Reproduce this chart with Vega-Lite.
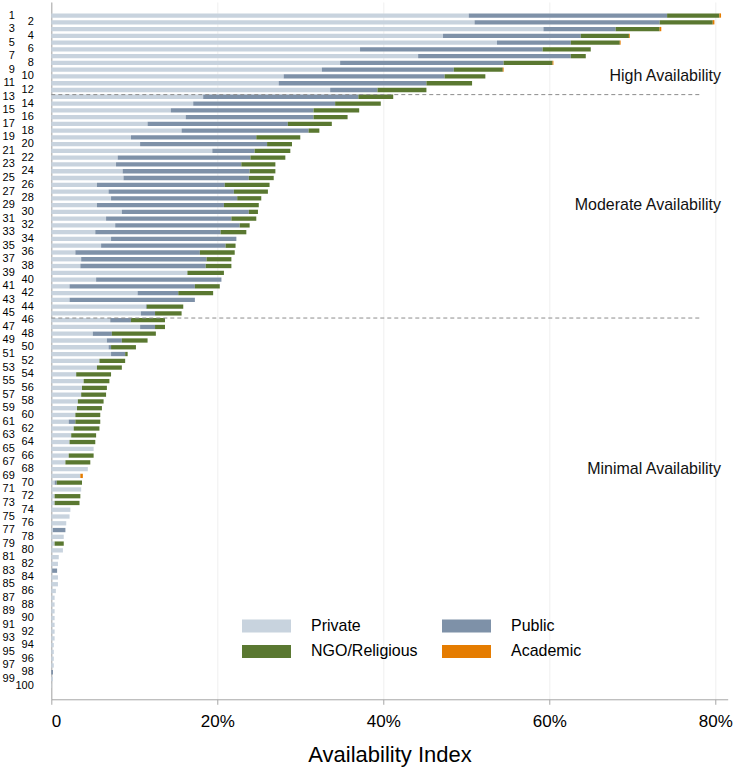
{
  "$schema": "https://vega.github.io/schema/vega-lite/v6.json",
  "autosize": {"type": "none"},
  "width": 676.4,
  "height": 697.3,
  "padding": {"left": 51.3, "top": 2, "right": 15, "bottom": 71},
  "background": "white",
  "config": {"view": {"stroke": null}, "font": "Liberation Sans"},
  "datasets": {
    "bars": [
      {"r": 1, "Private": 50.3, "Public": 23.9, "NGO/Religious": 6.3, "Academic": 0.2},
      {"r": 2, "Private": 51.0, "Public": 22.3, "NGO/Religious": 6.4, "Academic": 0.2},
      {"r": 3, "Private": 59.3, "Public": 8.7, "NGO/Religious": 5.3, "Academic": 0.2},
      {"r": 4, "Private": 47.2, "Public": 16.6, "NGO/Religious": 5.8, "Academic": 0.1},
      {"r": 5, "Private": 53.7, "Public": 8.9, "NGO/Religious": 5.9, "Academic": 0.1},
      {"r": 6, "Private": 37.2, "Public": 22.0, "NGO/Religious": 5.8},
      {"r": 7, "Private": 44.2, "Public": 18.4, "NGO/Religious": 1.8},
      {"r": 8, "Private": 34.8, "Public": 19.7, "NGO/Religious": 5.9, "Academic": 0.1},
      {"r": 9, "Private": 32.6, "Public": 15.9, "NGO/Religious": 5.9, "Academic": 0.1},
      {"r": 10, "Private": 28.0, "Public": 19.4, "NGO/Religious": 4.9},
      {"r": 11, "Private": 27.4, "Public": 17.8, "NGO/Religious": 5.5},
      {"r": 12, "Private": 33.6, "Public": 5.7, "NGO/Religious": 5.9},
      {"r": 13, "Private": 18.3, "Public": 18.7, "NGO/Religious": 4.2},
      {"r": 14, "Private": 17.1, "Public": 17.1, "NGO/Religious": 5.5},
      {"r": 15, "Private": 14.4, "Public": 17.2, "NGO/Religious": 5.5},
      {"r": 16, "Private": 16.2, "Public": 15.4, "NGO/Religious": 4.1},
      {"r": 17, "Private": 11.6, "Public": 16.9, "NGO/Religious": 5.3},
      {"r": 18, "Private": 15.7, "Public": 15.3, "NGO/Religious": 1.3},
      {"r": 19, "Private": 9.6, "Public": 15.1, "NGO/Religious": 5.3},
      {"r": 20, "Private": 10.7, "Public": 15.3, "NGO/Religious": 3.0},
      {"r": 21, "Private": 19.4, "Public": 5.1, "NGO/Religious": 4.3},
      {"r": 22, "Private": 8.0, "Public": 16.0, "NGO/Religious": 4.2},
      {"r": 23, "Private": 7.8, "Public": 15.1, "NGO/Religious": 4.1},
      {"r": 24, "Private": 8.6, "Public": 15.3, "NGO/Religious": 3.1},
      {"r": 25, "Private": 8.7, "Public": 15.1, "NGO/Religious": 3.0},
      {"r": 26, "Private": 5.5, "Public": 15.4, "NGO/Religious": 5.4},
      {"r": 27, "Private": 6.9, "Public": 15.1, "NGO/Religious": 4.1},
      {"r": 28, "Private": 7.2, "Public": 15.2, "NGO/Religious": 2.9},
      {"r": 29, "Private": 5.5, "Public": 15.3, "NGO/Religious": 4.2},
      {"r": 30, "Private": 8.5, "Public": 15.3, "NGO/Religious": 1.1},
      {"r": 31, "Private": 6.6, "Public": 15.1, "NGO/Religious": 3.0},
      {"r": 32, "Private": 7.7, "Public": 15.0, "NGO/Religious": 1.2},
      {"r": 33, "Private": 5.3, "Public": 15.1, "NGO/Religious": 3.1},
      {"r": 34, "Private": 7.2, "Public": 15.1},
      {"r": 35, "Private": 6.0, "Public": 15.0, "NGO/Religious": 1.2},
      {"r": 36, "Private": 2.9, "Public": 15.0, "NGO/Religious": 4.2},
      {"r": 37, "Private": 3.6, "Public": 15.1, "NGO/Religious": 3.0},
      {"r": 38, "Private": 3.5, "Public": 15.1, "NGO/Religious": 3.1},
      {"r": 39, "Private": 16.4, "NGO/Religious": 4.4},
      {"r": 40, "Private": 5.4, "Public": 15.1},
      {"r": 41, "Private": 2.2, "Public": 15.1, "NGO/Religious": 3.0},
      {"r": 42, "Private": 10.4, "Public": 4.9, "NGO/Religious": 4.2},
      {"r": 43, "Private": 2.2, "Public": 15.1},
      {"r": 44, "Private": 11.4, "Public": 0.1, "NGO/Religious": 4.4},
      {"r": 45, "Private": 10.8, "Public": 1.7, "NGO/Religious": 3.2},
      {"r": 46, "Private": 7.1, "Public": 2.5, "NGO/Religious": 4.1},
      {"r": 47, "Private": 10.7, "Public": 1.8, "NGO/Religious": 1.2},
      {"r": 48, "Private": 5.0, "Public": 2.3, "NGO/Religious": 5.3},
      {"r": 49, "Private": 6.7, "Public": 1.8, "NGO/Religious": 3.1},
      {"r": 50, "Private": 6.9, "Public": 0.3, "NGO/Religious": 3.0},
      {"r": 51, "Private": 7.2, "Public": 1.7, "NGO/Religious": 0.3},
      {"r": 52, "Private": 5.8, "NGO/Religious": 3.1},
      {"r": 53, "Private": 5.5, "NGO/Religious": 3.0},
      {"r": 54, "Private": 3.0, "NGO/Religious": 4.2},
      {"r": 55, "Private": 3.9, "NGO/Religious": 3.1},
      {"r": 56, "Private": 3.7, "NGO/Religious": 3.0},
      {"r": 57, "Private": 3.6, "NGO/Religious": 3.0},
      {"r": 58, "Private": 3.2, "NGO/Religious": 3.1},
      {"r": 59, "Private": 3.1, "NGO/Religious": 3.0},
      {"r": 60, "Private": 2.9, "NGO/Religious": 3.0},
      {"r": 61, "Private": 2.1, "Public": 0.8, "NGO/Religious": 3.0},
      {"r": 62, "Private": 2.7, "NGO/Religious": 3.1},
      {"r": 63, "Private": 2.4, "NGO/Religious": 3.0},
      {"r": 64, "Private": 2.2, "NGO/Religious": 3.1},
      {"r": 65, "Private": 5.1},
      {"r": 66, "Private": 2.1, "NGO/Religious": 3.0},
      {"r": 67, "Private": 1.7, "NGO/Religious": 3.0},
      {"r": 68, "Private": 4.4},
      {"r": 69, "Private": 3.5, "Academic": 0.3},
      {"r": 70, "Private": 0.4, "Public": 0.25, "NGO/Religious": 3.05},
      {"r": 71, "Private": 3.6},
      {"r": 72, "Private": 0.4, "NGO/Religious": 3.1},
      {"r": 73, "Private": 0.4, "NGO/Religious": 3.0},
      {"r": 74, "Private": 2.3},
      {"r": 75, "Private": 2.2},
      {"r": 76, "Private": 1.8},
      {"r": 77, "Private": 0.2, "Public": 1.5},
      {"r": 78, "Private": 1.5},
      {"r": 79, "Private": 0.4, "NGO/Religious": 1.1},
      {"r": 80, "Private": 1.4},
      {"r": 81, "Private": 0.9},
      {"r": 82, "Private": 0.8},
      {"r": 83, "Private": 0.1, "Public": 0.6},
      {"r": 84, "Private": 0.8},
      {"r": 85, "Private": 0.8},
      {"r": 86, "Private": 0.55},
      {"r": 87, "Private": 0.4},
      {"r": 88, "Private": 0.4},
      {"r": 89, "Private": 0.4},
      {"r": 90, "Private": 0.4},
      {"r": 91, "Private": 0.4},
      {"r": 92, "Private": 0.4},
      {"r": 93, "Private": 0.4},
      {"r": 94, "Private": 0.3},
      {"r": 95, "Private": 0.3},
      {"r": 96, "Private": 0.3},
      {"r": 97, "Private": 0.3},
      {"r": 98, "Public": 0.2},
      {"r": 99, "Private": 0.2},
      {"r": 100, "Private": 0.05}
    ],
    "dividers": [{"r": 13, "x0": 0, "x1": 78.3}, {"r": 46, "x0": 0, "x1": 78.3}],
    "zones": [
      {"r": 10, "x": 80.7, "t": "High Availability"},
      {"r": 29, "x": 80.7, "t": "Moderate Availability"},
      {"r": 68, "x": 80.7, "t": "Minimal Availability"}
    ]
  },
  "layer": [
    {
      "data": {"name": "bars"},
      "transform": [
        {"fold": ["Private", "Public", "NGO/Religious", "Academic"], "as": ["type", "v"]},
        {"filter": "isValid(datum.v) && datum.v > 0"}
      ],
      "mark": {"type": "bar"},
      "encoding": {
        "y": {
          "field": "r", "type": "ordinal",
          "scale": {
            "domain": [0,1,2,3,4,5,6,7,8,9,10,11,12,13,14,15,16,17,18,19,20,21,22,23,24,25,26,27,28,29,30,31,32,33,34,35,36,37,38,39,40,41,42,43,44,45,46,47,48,49,50,51,52,53,54,55,56,57,58,59,60,61,62,63,64,65,66,67,68,69,70,71,72,73,74,75,76,77,78,79,80,81,82,83,84,85,86,87,88,89,90,91,92,93,94,95,96,97,98,99,100,101],
            "paddingInner": 0.365, "paddingOuter": 0.68
          },
          "axis": {
            "title": null, "ticks": false,
            "labelPadding": {"condition": {"test": "datum.value % 2 == 1", "value": 37}, "value": 18},
            "labelFontSize": 11, "labelFont": "Liberation Sans", "labelColor": "#000000",
            "labelOverlap": false, "domainColor": "#a6a6a6", "domainWidth": 1,
            "labelExpr": "datum.value < 1 || datum.value > 100 ? '' : datum.label"
          }
        },
        "x": {
          "field": "v", "type": "quantitative", "stack": "zero",
          "scale": {"domain": [0, 81.5], "nice": false},
          "axis": {
            "title": "Availability Index", "values": [0, 20, 40, 60, 80],
            "labelExpr": "datum.value == 0 ? '0' : datum.label + '%'",
            "grid": true, "gridColor": "#efefef", "gridWidth": 1,
            "domainColor": "#a6a6a6", "tickColor": "#a6a6a6", "tickSize": 5,
            "labelFontSize": 17, "labelFont": "Liberation Sans", "labelColor": "#000000",
            "labelPadding": 9, "titleFontSize": 22, "titleFont": "Liberation Sans",
            "titleFontWeight": "normal", "titleColor": "#000000", "titlePadding": 15
          }
        },
        "color": {
          "field": "type", "type": "nominal",
          "scale": {
            "domain": ["Private", "Public", "NGO/Religious", "Academic"],
            "range": ["#c8d3de", "#7e91a8", "#5a7831", "#e57c00"]
          },
          "legend": {
            "orient": "none", "legendX": 190.7, "legendY": 616, "columns": 2,
            "direction": "horizontal",
            "title": null, "padding": 0,
            "symbolType": "M-1,-0.265H1V0.265H-1Z", "symbolSize": 2401,
            "symbolStrokeWidth": 0, "symbolOpacity": 1,
            "labelFontSize": 16, "labelFont": "Liberation Sans", "labelColor": "#000000",
            "labelOffset": 20, "columnPadding": 24, "rowPadding": 9.5, "clipHeight": 16
          }
        },
        "order": {"field": "r"}
      }
    },
    {
      "data": {"name": "dividers"},
      "mark": {"type": "rule", "strokeDash": [4, 3], "color": "#8c8c8c", "strokeWidth": 1},
      "encoding": {
        "y": {"field": "r", "type": "ordinal", "bandPosition": 0},
        "x": {"field": "x0", "type": "quantitative"},
        "x2": {"field": "x1"}
      }
    },
    {
      "data": {"name": "zones"},
      "mark": {"type": "text", "align": "right", "baseline": "middle", "fontSize": 16, "font": "Liberation Sans", "color": "#111111"},
      "encoding": {
        "y": {"field": "r", "type": "ordinal"},
        "x": {"field": "x", "type": "quantitative"},
        "text": {"field": "t"}
      }
    }
  ]
}
